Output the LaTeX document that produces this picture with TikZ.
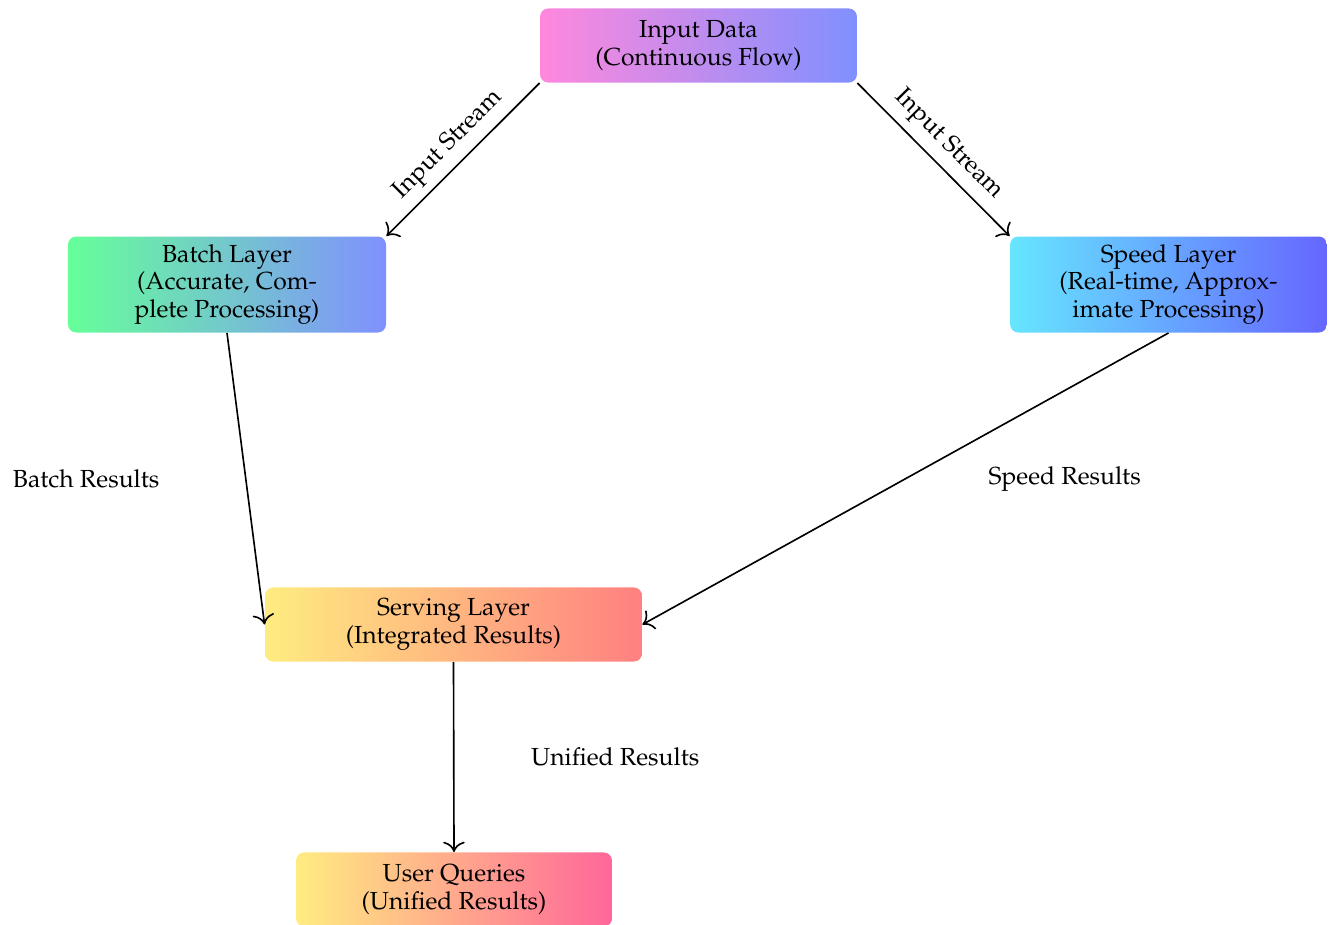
\documentclass[tikz,border=0pt]{standalone}
\usepackage[T1]{fontenc}
\usepackage{mathpazo}
\usetikzlibrary{arrows.meta}
\definecolor{inL}{RGB}{255,136,221}
\definecolor{inR}{RGB}{128,144,255}
\definecolor{baL}{RGB}{102,255,153}
\definecolor{baR}{RGB}{128,144,255}
\definecolor{spL}{RGB}{102,230,255}
\definecolor{spR}{RGB}{102,102,255}
\definecolor{seL}{RGB}{255,236,128}
\definecolor{seR}{RGB}{255,128,128}
\definecolor{usL}{RGB}{255,236,128}
\definecolor{usR}{RGB}{255,102,153}
\begin{document}
\begin{tikzpicture}[x=0.4292pt,y=-0.4292pt,
  every node/.style={font=\fontsize{10.6}{12}\selectfont},
  layerbox/.style={rounded corners=3.5pt, inner sep=0pt, align=center, minimum height=31.8pt},
  flow/.style={-{To[scale=1.4]}, line width=0.7pt}]
\useasboundingbox (0,0) rectangle (1331,924);
\node[layerbox, left color=inL, right color=inR, minimum width=136pt] (input) at (698.5,45.5) {Input Data\\(Continuous Flow)};
\node[layerbox, left color=baL, right color=baR, minimum width=136.5pt, minimum height=41.2pt] (batch) at (227,284.5) {Batch Layer\\(Accurate, Com-\\plete Processing)};
\node[layerbox, left color=spL, right color=spR, minimum width=136pt, minimum height=41.2pt] (speed) at (1168.5,284.5) {Speed Layer\\(Real-time, Approx-\\imate Processing)};
\node[layerbox, left color=seL, right color=seR, minimum width=161.8pt] (serving) at (453.5,624.5) {Serving Layer\\(Integrated Results)};
\node[layerbox, left color=usL, right color=usR, minimum width=135.6pt] (user) at (454,889.5) {User Queries\\(Unified Results)};
\draw[flow] (input.south west) -- node[midway, sloped, above] (l1) {Input Stream} (batch.north east);
\draw[flow] (input.south east) -- node[midway, sloped, above] (l2) {Input Stream} (speed.north west);
\draw[flow] (batch.south) -- node[midway, left, xshift=-33.4pt] (l3) {Batch Results} (serving.west);
\draw[flow] (speed.south) -- node[midway, right, xshift=32pt] (l4) {Speed Results} (serving.east);
\draw[flow] (serving.south) -- node[midway, right, xshift=29.5pt] (l5) {Unified Results} (user.north);
\end{tikzpicture}
\end{document}
